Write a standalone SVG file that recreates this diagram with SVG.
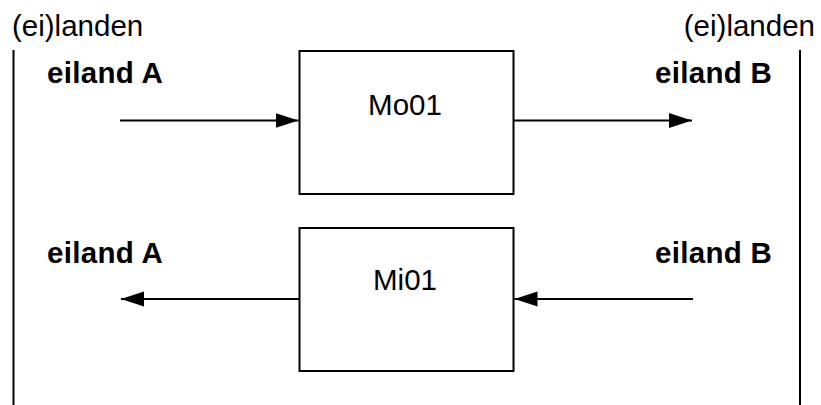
<svg xmlns="http://www.w3.org/2000/svg" width="821" height="405" viewBox="0 0 821 405">
<style>
.lbl{font-family:"Liberation Sans",Arial,sans-serif;font-size:29.5px;fill:#000}
.isl{font-family:"Liberation Sans",Arial,sans-serif;font-size:29.5px;font-weight:bold;letter-spacing:0.3px;fill:#000}
.box{fill:#fff;stroke:#000;stroke-width:2}
.ln{stroke:#000;stroke-width:2;fill:none}
.ar{stroke:#000;stroke-width:2;fill:none;marker-end:url(#ah)}
</style>
<defs>
<marker id="ah" markerUnits="userSpaceOnUse" markerWidth="24" markerHeight="16" refX="23" refY="7.5" orient="auto">
<path d="M0,0 L23,7.5 L0,15 z" fill="#000"/>
</marker>
</defs>
<rect width="821" height="405" fill="#fff"/>
<g id="left-boundary">
<text class="lbl" x="12" y="36">(ei)landen</text>
<line class="ln" x1="13.5" y1="50" x2="13.5" y2="405"/>
</g>
<g id="right-boundary">
<text class="lbl" x="815" y="36" text-anchor="end">(ei)landen</text>
<line class="ln" x1="800" y1="50" x2="800" y2="405"/>
</g>
<g id="eiland-A-top"><text class="isl" x="47" y="83">eiland A</text></g>
<g id="eiland-B-top"><text class="isl" x="655" y="83">eiland B</text></g>
<g id="eiland-A-bottom"><text class="isl" x="47" y="263">eiland A</text></g>
<g id="eiland-B-bottom"><text class="isl" x="655" y="263">eiland B</text></g>
<g id="Mo01">
<rect class="box" x="299.5" y="51" width="214" height="143"/>
<text class="lbl" x="405" y="115" text-anchor="middle">Mo01</text>
</g>
<g id="Mi01">
<rect class="box" x="299.5" y="228" width="214" height="143"/>
<text class="lbl" x="405" y="290" text-anchor="middle">Mi01</text>
</g>
<g id="connectors">
<line class="ar" x1="120" y1="120.5" x2="298.5" y2="120.5"/>
<line class="ar" x1="513.5" y1="120.5" x2="692" y2="120.5"/>
<line class="ar" x1="299.5" y1="299" x2="121" y2="299"/>
<line class="ar" x1="693" y1="299" x2="514.5" y2="299"/>
</g>
</svg>
